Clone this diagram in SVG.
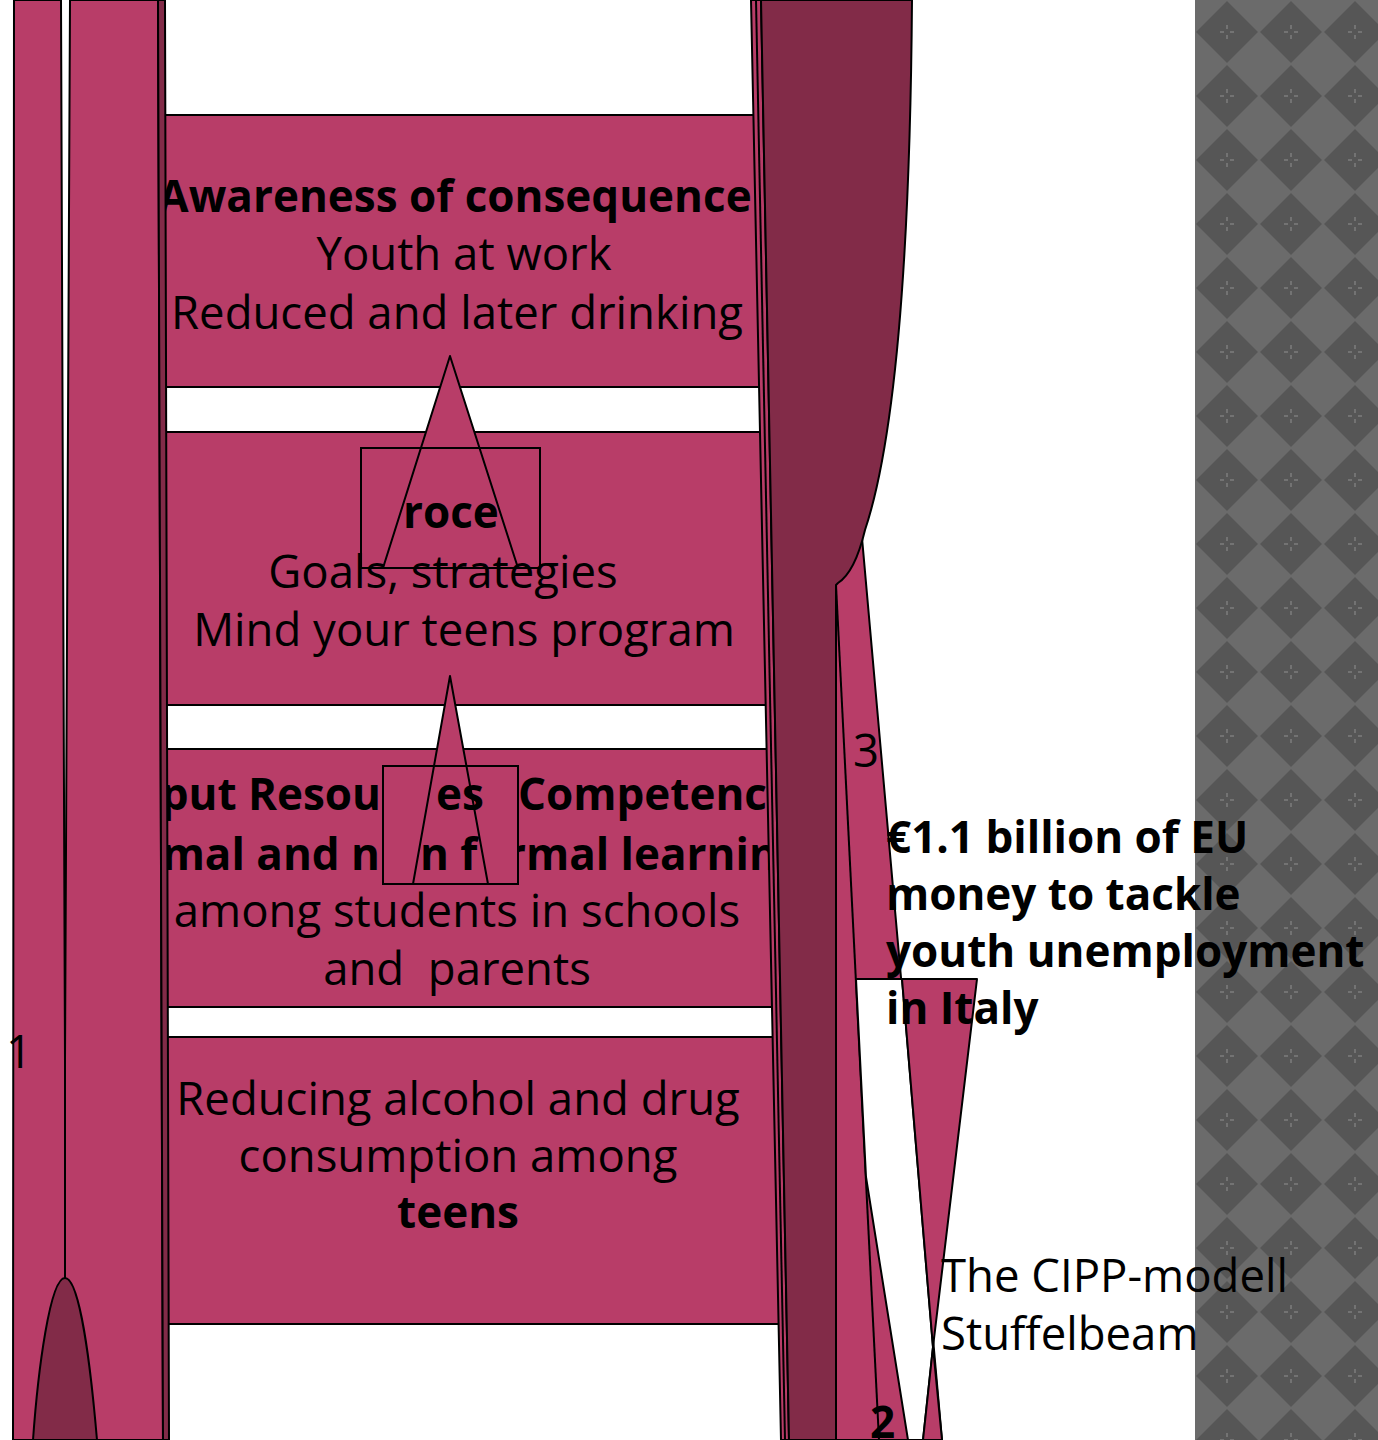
<svg xmlns="http://www.w3.org/2000/svg" width="1378" height="1440" viewBox="0 0 1378 1440">
<defs>
<style>
.pk{fill:#b83d68;stroke:#000;stroke-width:2;stroke-linejoin:round}
.dk{fill:#822b48;stroke:#000;stroke-width:2;stroke-linejoin:round}
.wh{fill:#fff;stroke:#000;stroke-width:2;stroke-linejoin:round}
.ol{fill:none;stroke:#000;stroke-width:2}
.ln{stroke:#000;stroke-width:2;fill:none}
.t{font-family:"Open Sans","Noto Sans",sans-serif;font-size:45.5px;fill:#000}
.b{font-family:"Open Sans","Noto Sans",sans-serif;font-size:44px;font-weight:bold;fill:#000}
.c{text-anchor:middle}
.e{text-anchor:end}
</style>
<clipPath id="rightOfRect2"><rect x="519" y="820" width="300" height="70"/></clipPath>
<pattern id="diam" patternUnits="userSpaceOnUse" x="1195" y="0" width="64" height="64">
<rect width="64" height="64" fill="#6b6b6b"/>
<polygon points="32,1 63,32 32,63 1,32" fill="#565656"/>
<g stroke="#868686" stroke-width="1.2">
<line x1="32" y1="25" x2="32" y2="29"/><line x1="32" y1="35" x2="32" y2="39"/>
<line x1="25" y1="32" x2="29" y2="32"/><line x1="35" y1="32" x2="39" y2="32"/>
</g>
</pattern>
</defs>
<rect width="1378" height="1440" fill="#fff"/>

<g id="right-band">
<polygon class="pk" points="800,380 848,380 942,1440 800,1440"/>
</g>

<g id="box-outcome"><rect class="pk" x="150" y="115" width="650" height="272"/></g>
<g id="box-process"><rect class="pk" x="150" y="432" width="650" height="273"/></g>
<g id="box-input"><rect class="pk" x="150" y="749" width="650" height="258"/></g>
<g id="box-context"><rect class="pk" x="150" y="1037" width="650" height="287"/></g>

<g id="connectors">
<polygon class="pk" points="450,356 518,568 383,568"/>
<rect class="ol" x="361" y="448" width="179" height="120"/>
<polygon class="pk" points="450,676 488,884 413,884"/>
<rect class="ol" x="383" y="766" width="135" height="118"/>
</g>

<g id="box-texts">
<text class="b c" x="455" y="212">Awareness of consequence</text>
<text class="t c" x="464" y="270">Youth at work</text>
<text class="t c" x="457" y="329">Reduced and later drinking</text>

<text class="b" x="403" y="528">roce</text>
<text class="t c" x="443" y="588">Goals, strategies</text>
<text class="t c" x="464" y="646">Mind your teens program</text>

<text class="b e" x="381" y="810">put Resou</text>
<text class="b" x="436" y="810">es</text>
<text class="b" x="518" y="810">Competence</text>
<text class="b e" x="380" y="870">rmal and n</text>
<text class="b" x="420" y="870">n f</text>
<text class="b" x="506" y="870" clip-path="url(#rightOfRect2)">rmal learning</text>
<text class="t c" x="457" y="927">among students in schools</text>
<text class="t c" x="457" y="985" style="white-space:pre">and  parents</text>

<text class="t c" x="458" y="1115">Reducing alcohol and drug</text>
<text class="t c" x="458" y="1172">consumption among</text>
<text class="b c" x="458" y="1228">teens</text>
</g>

<g id="left-columns">
<polygon class="pk" points="14,0 61,0 65,1060 65,1440 13,1440"/>
<polygon class="pk" points="70,0 158,0 163,1440 65,1440 65,1060"/>
<polygon class="dk" points="158,0 165,0 169,1440 163,1440"/>
<path class="dk" d="M33,1440 C38,1370 50,1278 65,1278 C80,1278 91,1370 97,1440 Z"/>
</g>

<g id="right-shapes">
<polygon class="pk" points="751,0 761,0 789,1440 781,1440"/>
<line class="ln" x1="756" y1="0" x2="785" y2="1440"/>
<path class="dk" d="M761,0 L912,0 C910,260 895,440 865,530 Q855,572 838,583 L836,585 L836,1440 L789,1440 Z"/>
<line class="ln" x1="836" y1="585" x2="879" y2="1440"/>
<polygon class="wh" points="856,979 902,979 933,1347 923,1440 908,1440 866,1177"/>
<polygon class="pk" points="902,979 977,979 933,1347"/>
<polygon class="pk" points="933,1347 923,1440 942,1440"/>
</g>

<g id="pattern-panel">
<rect x="1195" y="0" width="183" height="1440" fill="url(#diam)"/>
</g>

<g id="labels">
<text class="t" x="853" y="767">3</text>
<text class="t" x="6" y="1068">1</text>
<text class="b" x="870" y="1438">2</text>
<text class="b" x="886" y="853">€1.1 billion of EU</text>
<text class="b" x="886" y="910">money to tackle</text>
<text class="b" x="886" y="967">youth unemployment</text>
<text class="b" x="886" y="1024">in Italy</text>
<text class="t" x="941" y="1292">The CIPP-modell</text>
<text class="t" x="941" y="1350">Stuffelbeam</text>
</g>
</svg>
